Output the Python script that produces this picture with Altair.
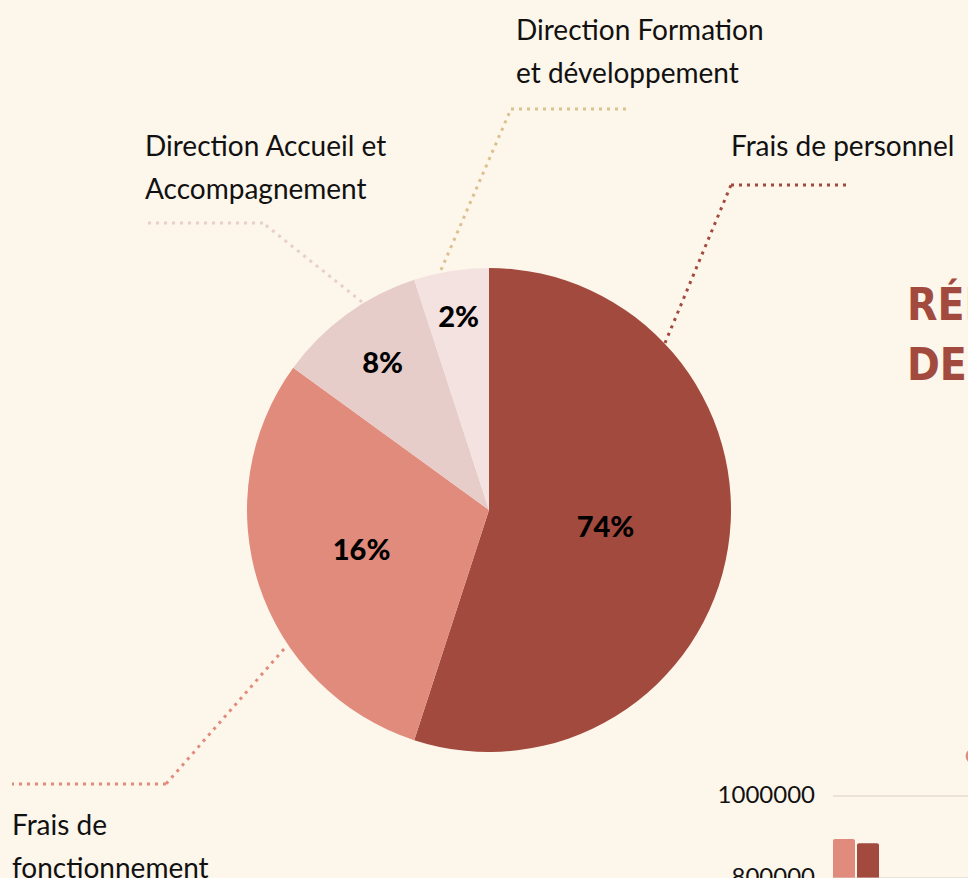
import altair as alt
import pandas as pd

# ---- data ----
categories = ["Frais de personnel", "Frais de fonctionnement",
              "Direction Accueil et Accompagnement", "Direction Formation et développement"]
slice_values = [55, 30, 10, 5]
pct_labels = ["74%", "16%", "8%", "2%"]
slice_colors = ["#a34a3f", "#e18b7c", "#e6cdc9", "#f4e2e1"]

label_personnel = ["Frais de personnel"]
label_fonctionnement = ["Frais de", "fonctionnement"]
label_accueil = ["Direction Accueil et", "Accompagnement"]
label_formation = ["Direction Formation", "et développement"]
title_lines = ["RÉPARTITION", "DES DÉPENSES"]

bar_series = ["Série 1", "Série 2"]
bar_values = [895000, 885000]
bar_colors = ["#e18b7c", "#a34a3f"]
y_ticks = [800000, 1000000]

# ---- layout / style ----
BG = "#fdf6eb"
CX, CY, R = 489, 510, 242
label_radii = [118, 134, 181, 194]
FONT = "Lato"

one = pd.DataFrame({"k": [0]})


def seg(x1, y1, x2, y2, color):
    return alt.Chart(one).mark_rule(color=color, strokeWidth=3, strokeDash=[3, 5], strokeCap="butt").encode(
        x=alt.value(x1), y=alt.value(y1), x2=alt.value(x2), y2=alt.value(y2))


def label(lines, x, y, size=28, color="#111111", weight="normal", font=FONT, lh=43):
    return alt.Chart(one).mark_text(align="left", baseline="alphabetic", font=font, fontSize=size,
                                    fontWeight=weight, color=color, lineHeight=lh).encode(
        x=alt.value(x), y=alt.value(y), text=alt.value(lines))


layers = []
# bar chart fragment (bottom right)
yscale = alt.Scale(domain=[800000, 1000000], range=[878, 796], nice=False, zero=False)
bar_df = pd.DataFrame({"series": bar_series, "value": bar_values})
layers.append(alt.Chart(bar_df).mark_bar(cornerRadiusTopLeft=2, cornerRadiusTopRight=2).encode(
    x=alt.X("series:N", scale=alt.Scale(domain=bar_series, range=[833, 879], paddingInner=0.0833,
                                        paddingOuter=0), axis=None),
    y=alt.Y("value:Q", scale=yscale, axis=None, stack=None),
    y2=alt.value(1000),
    color=alt.Color("series:N", scale=alt.Scale(domain=bar_series, range=bar_colors),
                    legend=alt.Legend(orient="none", legendX=962, legendY=745, title=None,
                                      symbolType="circle", symbolSize=220, direction="horizontal",
                                      padding=0, labelFontSize=22, labelFont=FONT))))
tick_df = pd.DataFrame({"tick": y_ticks})
layers.append(alt.Chart(tick_df).mark_rule(color="#d8cec6", strokeWidth=1).encode(
    y=alt.Y("tick:Q", scale=yscale, axis=None), x=alt.value(833), x2=alt.value(968)))
layers.append(alt.Chart(tick_df).mark_text(align="right", baseline="middle", font=FONT, fontSize=24,
                                           color="#111111").encode(
    y=alt.Y("tick:Q", scale=yscale, axis=None), x=alt.value(815), text=alt.Text("tick:Q", format="d")))

# leader lines
layers += [seg(665, 343, 731, 185, "#a34a3f"), seg(731, 185, 848, 185, "#a34a3f")]
layers += [seg(441, 270, 511, 109, "#dcc18f"), seg(511, 109, 627, 109, "#dcc18f")]
layers += [seg(362, 302, 263, 223, "#e8cfcb"), seg(263, 223, 147, 223, "#e8cfcb")]
layers += [seg(284, 649, 166, 784, "#e18b7c"), seg(166, 784, 12, 784, "#e18b7c")]

# pie
pie_df = pd.DataFrame({"cat": categories, "value": slice_values, "label": pct_labels,
                       "order": list(range(len(categories)))})
base = alt.Chart(pie_df).encode(theta=alt.Theta("value:Q", stack=True), order=alt.Order("order:Q"))
layers.append(base.mark_arc(x=CX, y=CY, outerRadius=R).encode(
    color=alt.Color("cat:N", scale=alt.Scale(domain=categories, range=slice_colors), legend=None)))
for cat, r in zip(categories, label_radii):
    layers.append(base.mark_text(x=CX, y=CY, radius=r, font=FONT, fontSize=29, fontWeight=900,
                                 color="#000000", baseline="middle", align="center").encode(
        text=alt.condition(alt.datum.cat == cat, "label:N", alt.value(""))))

# labels
layers.append(label(label_formation, 516, 40))
layers.append(label(label_accueil, 145, 156))
layers.append(label(label_personnel, 731, 156))
layers.append(label(label_fonctionnement, 12, 835))
layers.append(label(title_lines, 907, 320, size=44, color="#a34a3f", weight="bold",
                    font="DejaVu Sans Condensed, Roboto, sans-serif", lh=60))

chart = alt.layer(*layers).resolve_scale(color="independent").properties(
    width=968, height=878, padding=0, autosize=alt.AutoSizeParams(type="none"), background=BG
).configure_view(stroke=None)

chart.save("out.html", embed_options={"renderer": "svg", "actions": False})
